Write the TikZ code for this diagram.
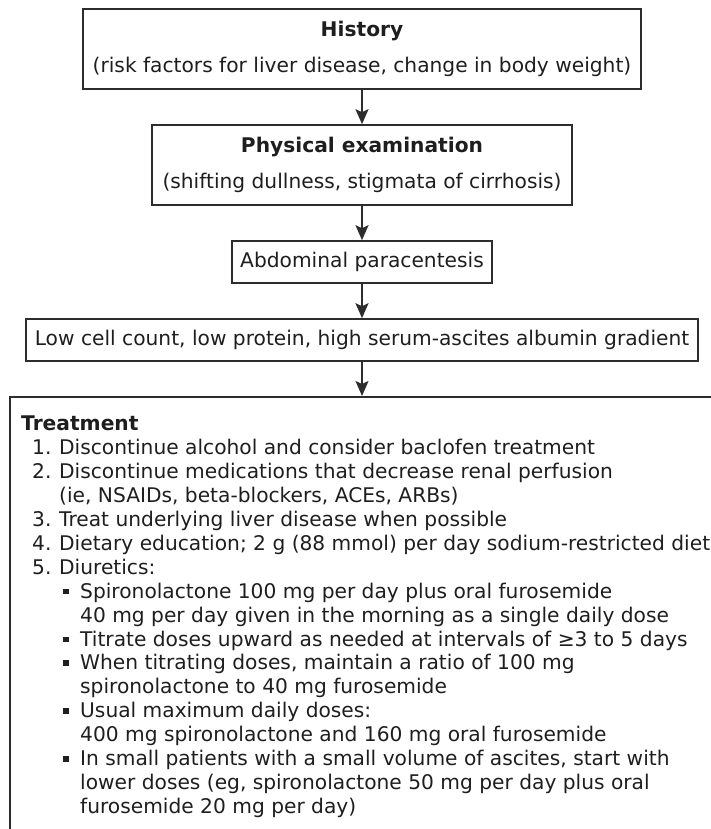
\documentclass[tikz,border=0pt]{standalone}
\usepackage{fontspec}
\setmainfont{DejaVu Sans}
\usepackage{xcolor}
\usepackage{tikz}
\usetikzlibrary{arrows.meta}

\definecolor{ink}{RGB}{30,30,30}
\definecolor{edge}{RGB}{45,45,45}

\tikzset{
    box/.style={draw=edge, line width=1.6pt, inner sep=0pt, text=ink},
    arr/.style={draw=edge, line width=1.6pt, -{Stealth[length=15pt,width=13pt,inset=3pt]}},
}

\newcommand{\numline}[2]{\hspace*{11pt}\makebox[27pt][l]{#1}#2}
\newcommand{\numcont}[1]{\hspace*{38pt}#1}
\newcommand{\bulline}[1]{\hspace*{42pt}\makebox[17pt][l]{\rule[4pt]{5.5pt}{5.5pt}}#1}
\newcommand{\bulcont}[1]{\hspace*{59pt}#1}

\begin{document}
\begin{tikzpicture}[x=1pt, y=-1pt, font=\fontsize{20.2}{24}\selectfont]
    \useasboundingbox (0,0) rectangle (711,829);
    \clip (0,0) rectangle (711,829);

    \node[box, minimum width=558pt, minimum height=80pt, align=center] (hist) at (362,49)
        {\textbf{History}\\[12pt](risk factors for liver disease, change in body weight)};
    \node[box, minimum width=420pt, minimum height=80pt, align=center] (phys) at (362,165)
        {\textbf{Physical examination}\\[12pt](shifting dullness, stigmata of cirrhosis)};
    \node[box, minimum width=260pt, minimum height=42pt] (para) at (362,262)
        {Abdominal paracentesis};
    \node[box, minimum width=672pt, minimum height=42pt] (low) at (362,340)
        {Low cell count, low protein, high serum-ascites albumin gradient};

    % treatment box runs off the page
    \node[box, anchor=north west, minimum width=800pt, minimum height=500pt] (treat) at (9,396) {};
    \node[anchor=north west, inner sep=0pt, align=left, text=ink,
          font=\fontsize{20.2}{23.9}\selectfont] (treatlist) at (21,416) {%
        \textbf{Treatment}\\
        \numline{1.}{Discontinue alcohol and consider baclofen treatment}\\
        \numline{2.}{Discontinue medications that decrease renal perfusion}\\
        \numcont{(ie, NSAIDs, beta-blockers, ACEs, ARBs)}\\
        \numline{3.}{Treat underlying liver disease when possible}\\
        \numline{4.}{Dietary education; 2 g (88 mmol) per day sodium-restricted diet}\\
        \numline{5.}{Diuretics:}\\
        \bulline{Spironolactone 100 mg per day plus oral furosemide}\\
        \bulcont{40 mg per day given in the morning as a single daily dose}\\
        \bulline{Titrate doses upward as needed at intervals of ≥3 to 5 days}\\
        \bulline{When titrating doses, maintain a ratio of 100 mg}\\
        \bulcont{spironolactone to 40 mg furosemide}\\
        \bulline{Usual maximum daily doses:}\\
        \bulcont{400 mg spironolactone and 160 mg oral furosemide}\\
        \bulline{In small patients with a small volume of ascites, start with}\\
        \bulcont{lower doses (eg, spironolactone 50 mg per day plus oral}\\
        \bulcont{furosemide 20 mg per day)}};

    \draw[arr] (hist) -- (phys);
    \draw[arr] (phys) -- (para);
    \draw[arr] (para) -- (low);
    \draw[arr] (low) -- (low |- treat.north);
\end{tikzpicture}
\end{document}
